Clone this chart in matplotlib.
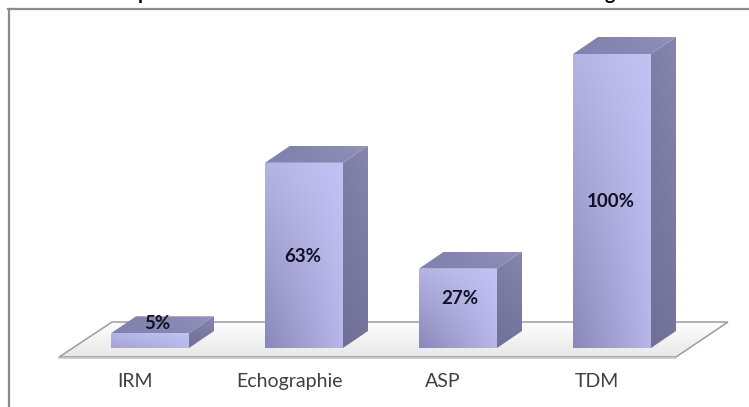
import numpy as np
import matplotlib
matplotlib.use('Agg')
import matplotlib.pyplot as plt
from matplotlib.colors import to_rgb
from matplotlib.patches import Polygon

categories = ['IRM', 'Echographie', 'ASP', 'TDM']
values = [5, 63, 27, 100]
value_labels = ['5%', '63%', '27%', '100%']

# where the value labels sit on each bar, in axis units
label_x = [0.05, -0.01, 0.01, -0.01]
label_y = [8.5, 31, 17, 50]

plt.rcParams['font.family'] = ['Lato', 'DejaVu Sans']

W, H = 749, 407
fig = plt.figure(figsize=(W / 100, H / 100), dpi=100, facecolor='white')
ax = fig.add_axes([0, 0, 1, 1])

# one category step is 154 px, one percent is 2.94 px
XSTEP = 154.0
YSTEP = 2.94
X0 = 150.0
Y0 = 348.0
xlim = (-X0 / XSTEP, (W - X0) / XSTEP)
ylim = (-(H - Y0) / YSTEP, Y0 / YSTEP)

BAR_W = 78 / XSTEP
DX = 25 / XSTEP
DY = 17 / YSTEP


def gradient(poly, corners, zorder):
    # corners: top-left, top-right, bottom-left, bottom-right
    xs = [p[0] for p in poly]
    ys = [p[1] for p in poly]
    u = np.linspace(0, 1, 64)[None, :, None]
    v = np.linspace(0, 1, 64)[:, None, None]
    tl, tr, bl_, br_ = [np.array(to_rgb(c)) for c in corners]
    img = (1 - v) * ((1 - u) * tl + u * tr) + v * ((1 - u) * bl_ + u * br_)
    im = ax.imshow(img, extent=(min(xs), max(xs), min(ys), max(ys)), aspect='auto',
                   origin='upper', interpolation='bilinear', zorder=zorder)
    patch = Polygon(poly, closed=True, transform=ax.transData, fc='none', ec='none')
    ax.add_patch(patch)
    im.set_clip_path(patch)


# floor plate
fl, fr = -0.59, 3.416
bl, br = -0.247, 3.753
fy, by = -3.06, 8.84
floor = [(bl, by), (br, by), (fr, fy), (fl, fy)]
gradient(floor, ['#fdfdfd', '#fdfdfd', '#e8e8e8', '#e8e8e8'], 1)
ax.add_patch(Polygon(floor, closed=True, fc='none', ec='#9c9c9c', lw=1.1, zorder=2))
ax.plot([fl, fr], [fy - 0.35, fy - 0.35], color='#c8c8c8', lw=1.2, zorder=2)

# extruded bars
for i, v in enumerate(values):
    left, right = i - BAR_W / 2, i + BAR_W / 2
    mix = min(1.0, v / 25)
    low_left = tuple((1 - mix) * np.array(to_rgb('#aaaadc')) + mix * np.array(to_rgb('#8a88b8')))

    side = [(right, 0), (right + DX, DY), (right + DX, v + DY), (right, v)]
    gradient(side, ['#7f7fa9', '#8585ae', '#6f6f97', '#74749b'], 3)

    top = [(left, v), (right, v), (right + DX, v + DY), (left + DX, v + DY)]
    gradient(top, ['#7d7dab', '#9292bb', '#8383b1', '#8a8ab6'], 3)

    front = [(left, 0), (right, 0), (right, v), (left, v)]
    gradient(front, ['#b4b4e4', '#c2c2f4', low_left, '#b8b6ea'], 4)

    ax.text(i + label_x[i], label_y[i], value_labels[i], ha='center', va='center',
            fontsize=13.5, fontweight='bold', color='#111122', zorder=6)
    ax.text(i - 15 / XSTEP, -11.3, categories[i], ha='center', va='center',
            fontsize=14, color='#404040', zorder=6)

ax.set_xlim(*xlim)
ax.set_ylim(*ylim)
ax.axis('off')

# chart frame: only the left and top edges fall inside the canvas
fig.add_artist(plt.Line2D([9 / W, 9 / W], [0, 1 - 9 / H], color='#8c8c8c', lw=1.6))
fig.add_artist(plt.Line2D([8 / W, 1], [1 - 9 / H, 1 - 9 / H], color='#8c8c8c', lw=1.6))

# heading sits above the canvas, only the descenders show
fig.text(143 / W, 1.0, 'p', ha='center', va='baseline', fontsize=14, fontweight='bold', color='black')
fig.text(610 / W, 1.0, 'g', ha='center', va='baseline', fontsize=14, fontweight='bold', color='black')

fig.savefig('out.png', dpi=100)
